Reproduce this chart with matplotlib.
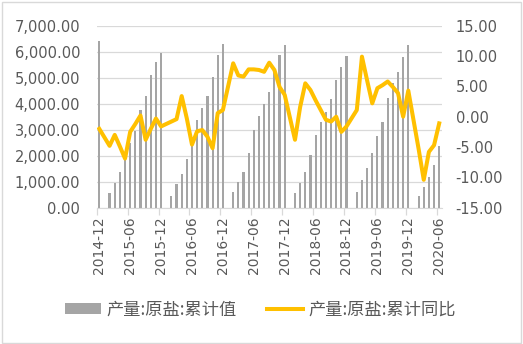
import numpy as np
import pandas as pd
import matplotlib.pyplot as plt
from matplotlib.patches import Rectangle, Patch
from matplotlib.lines import Line2D

plt.rcParams['font.family'] = ['DejaVu Sans', 'Noto Sans CJK SC']

months = pd.period_range('2014-12', '2020-06', freq='M').strftime('%Y-%m').tolist()

# 累计值 (万吨)，1月不单独公布
output_cum = [
    6420,
    None, 570, 960, 1360, 1900, 2480, 2950, 3760, 4290, 5090, 5590, 5940,
    None, 450, 900, 1280, 1870, 2480, 3360, 3820, 4300, 5010, 5870, 6280,
    None, 590, 990, 1380, 2090, 2990, 3540, 3970, 4460, 5380, 5870, 6260,
    None, 550, 960, 1370, 2030, 2790, 3290, 3690, 4170, 4910, 5420, 5830,
    None, 615, 1060, 1540, 2120, 2770, 3310, 4210, 4780, 5230, 5790, 6260,
    None, 450, 785, 1170, 1640, 2370,
]

# 累计同比 (%)
output_yoy = [
    -2.0,
    None, -4.8, -3.0, -4.9, -6.9, -2.5, -1.2, 0.2, -3.8, -2.0, -0.3, -1.6,
    None, -0.8, -0.4, 3.4, -0.3, -4.6, -2.4, -2.2, -3.3, -5.2, 0.6, 1.1,
    None, 8.8, 6.8, 6.6, 7.8, 7.8, 7.7, 7.4, 8.9, 7.7, 4.9, 3.6,
    None, -3.8, 1.6, 5.5, 4.4, 2.7, 1.1, -0.5, -0.8, 0.0, -2.5, -1.6,
    None, 1.1, 9.9, 6.0, 2.2, 4.7, 5.2, 5.8, 4.9, 3.9, 0.0, 4.3,
    None, -5.3, -10.4, -5.8, -4.7, -1.1,
]

bar_label = '产量:原盐:累计值'
line_label = '产量:原盐:累计同比'

text_color = '#595959'
grid_color = '#D9D9D9'
bar_color = '#A5A5A5'
line_color = '#FFC000'

x = np.arange(len(months))
cum = np.array([np.nan if v is None else v for v in output_cum], dtype=float)
yoy = np.array([np.nan if v is None else v for v in output_yoy], dtype=float)

fig = plt.figure(figsize=(5.23, 3.44), dpi=100)
fig.patches.append(Rectangle((0.003, 0.004), 0.994, 0.99, transform=fig.transFigure,
                             fill=False, edgecolor=grid_color, linewidth=1))
ax = fig.add_axes([0.1849, 0.3962, 0.6598, 0.5291])
ax2 = ax.twinx()

has_bar = ~np.isnan(cum)
ax.bar(x[has_bar], cum[has_bar], width=0.42, color=bar_color, zorder=2)

# 1月缺值处直接连线
has_yoy = ~np.isnan(yoy)
ax2.plot(x[has_yoy], yoy[has_yoy], color=line_color, linewidth=2.9,
         solid_joinstyle='round', zorder=3)

ax.set_xlim(-0.5, len(months) - 0.5)
ax.set_ylim(0, 7000)
ax.set_yticks(np.arange(0, 7001, 1000))
ax.set_yticklabels([f'{v:,.2f}' for v in np.arange(0, 7001, 1000)])
ax2.set_ylim(-15, 15)
ax2.set_yticks(np.arange(-15, 16, 5))
ax2.set_yticklabels([f'{v:.2f}' for v in np.arange(-15, 16, 5)])

ax.grid(axis='y', color=grid_color, linewidth=0.9, zorder=0)
ax.set_axisbelow(True)

ax.set_xticks(x[::6])
ax.set_xticklabels(months[::6], rotation=90)
ax.set_xticks(np.arange(-0.5, len(months) - 1, 6), minor=True)
ax.tick_params(axis='x', which='major', length=0, pad=6, labelsize=10, colors=text_color)
ax.tick_params(axis='x', which='minor', length=5, width=0.9, color=grid_color)
ax.tick_params(axis='y', length=0, pad=12, labelsize=10.5, colors=text_color)
ax2.tick_params(axis='y', length=0, pad=10, labelsize=10.5, colors=text_color)

for a in (ax, ax2):
    for side in ('top', 'left', 'right', 'bottom'):
        a.spines[side].set_visible(False)
ax.spines['bottom'].set_visible(True)
ax.spines['bottom'].set_color(grid_color)

handles = [Patch(facecolor=bar_color, edgecolor='none'),
           Line2D([0], [0], color=line_color, linewidth=2.9)]
fig.legend(handles, [bar_label, line_label], loc='center', bbox_to_anchor=(0.498, 0.1),
           ncol=2, frameon=False, handlelength=2.1, handleheight=0.6, handletextpad=0.3,
           columnspacing=1.8, borderaxespad=0,
           prop={'family': ['Noto Sans CJK SC', 'DejaVu Sans'], 'size': 12.4},
           labelcolor=text_color)

fig.savefig('out.png', dpi=100)
